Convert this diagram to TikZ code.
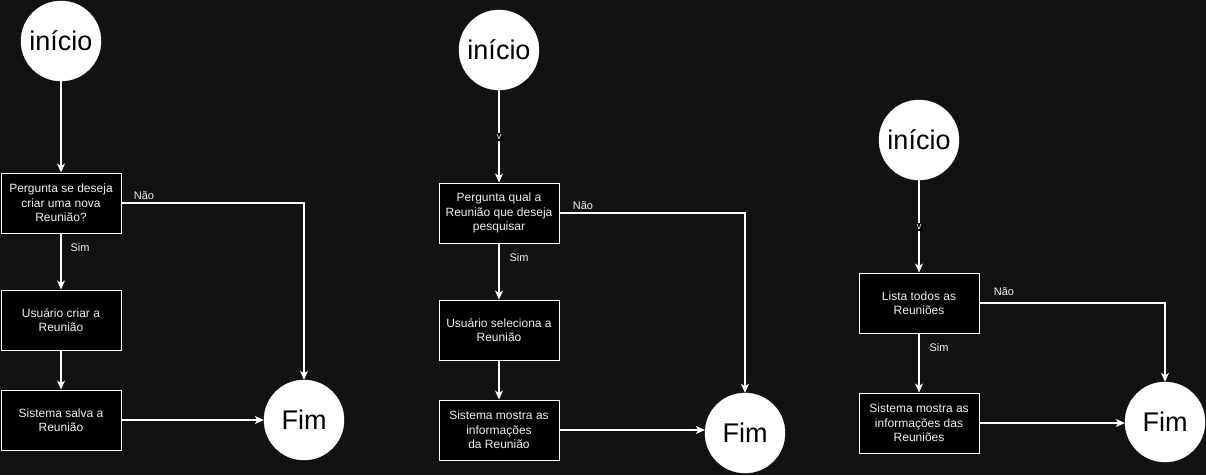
\documentclass[tikz,border=0pt]{standalone}
\usepackage{fontspec}
\setmainfont{Liberation Sans}
\usetikzlibrary{arrows.meta}
\definecolor{bg}{HTML}{121212}
\definecolor{fg}{HTML}{F0F0F0}
\tikzset{
  term/.style={circle,fill=white,draw=white,minimum size=80pt,inner sep=0pt,text=black,font=\fontsize{27}{30}\selectfont},
  stepbox/.style={rectangle,draw=white,line width=1pt,fill=black,minimum width=120pt,minimum height=60pt,inner sep=2pt,text=fg,align=center,font=\fontsize{12}{14.4}\selectfont},
  conn/.style={draw=white,line width=1.2pt,-{Stealth[length=9pt,width=8pt,inset=2.5pt]}},
  lbl/.style={text=fg,font=\fontsize{11}{13}\selectfont,inner sep=1pt},
  vlbl/.style={text=fg,fill=black,font=\fontsize{10}{12}\selectfont,inner sep=1pt}
}
\begin{document}
\begin{tikzpicture}[x=1pt,y=-1pt]
\fill[bg] (0,0) rectangle (1206,475);
\useasboundingbox (0,0) rectangle (1206,475);
% diagram 1
\node[term] (s1) at (61,41) {início};
\node[stepbox] (b11) at (61,203) {Pergunta se deseja\\criar uma nova\\Reunião?};
\node[stepbox] (b12) at (61,320) {Usuário criar a\\Reunião};
\node[stepbox] (b13) at (61,420) {Sistema salva a\\Reunião};
\node[term] (f1) at (304,420) {Fim};
\draw[conn] (s1) -- (b11);
\draw[conn] (b11) -- (b12);
\draw[conn] (b12) -- (b13);
\draw[conn] (b13) -- (f1);
\draw[conn] (b11.east) -| (f1.north);
\node[lbl] (n1) at (144,196) {Não};
\node[lbl] (y1) at (80,248) {Sim};
% diagram 2
\node[term] (s2) at (499,50) {início};
\node[stepbox] (b21) at (499,213) {Pergunta qual a\\Reunião que deseja\\pesquisar};
\node[stepbox] (b22) at (499,330) {Usuário seleciona a\\Reunião};
\node[stepbox] (b23) at (499,430) {Sistema mostra as\\informações\\da Reunião};
\node[term] (f2) at (745,433) {Fim};
\draw[conn] (s2) -- (b21);
\draw[conn] (b21) -- (b22);
\draw[conn] (b22) -- (b23);
\draw[conn] (b23.east) -- (b23.east -| f2.west);
\draw[conn] (b21.east) -| (f2.north);
\node[vlbl] (v2) at (499,137) {v};
\node[lbl] (n2) at (583,206) {Não};
\node[lbl] (y2) at (519,258) {Sim};
% diagram 3
\node[term] (s3) at (919,140) {início};
\node[stepbox] (b31) at (919,303) {Lista todos as\\Reuniões};
\node[stepbox] (b32) at (919,423) {Sistema mostra as\\informações das\\Reuniões};
\node[term] (f3) at (1165,422) {Fim};
\draw[conn] (s3) -- (b31);
\draw[conn] (b31) -- (b32);
\draw[conn] (b32.east) -- (b32.east -| f3.west);
\draw[conn] (b31.east) -| (f3.north);
\node[vlbl] (v3) at (919,227) {v};
\node[lbl] (n3) at (1004,292) {Não};
\node[lbl] (y3) at (939,348) {Sim};
\end{tikzpicture}
\end{document}
